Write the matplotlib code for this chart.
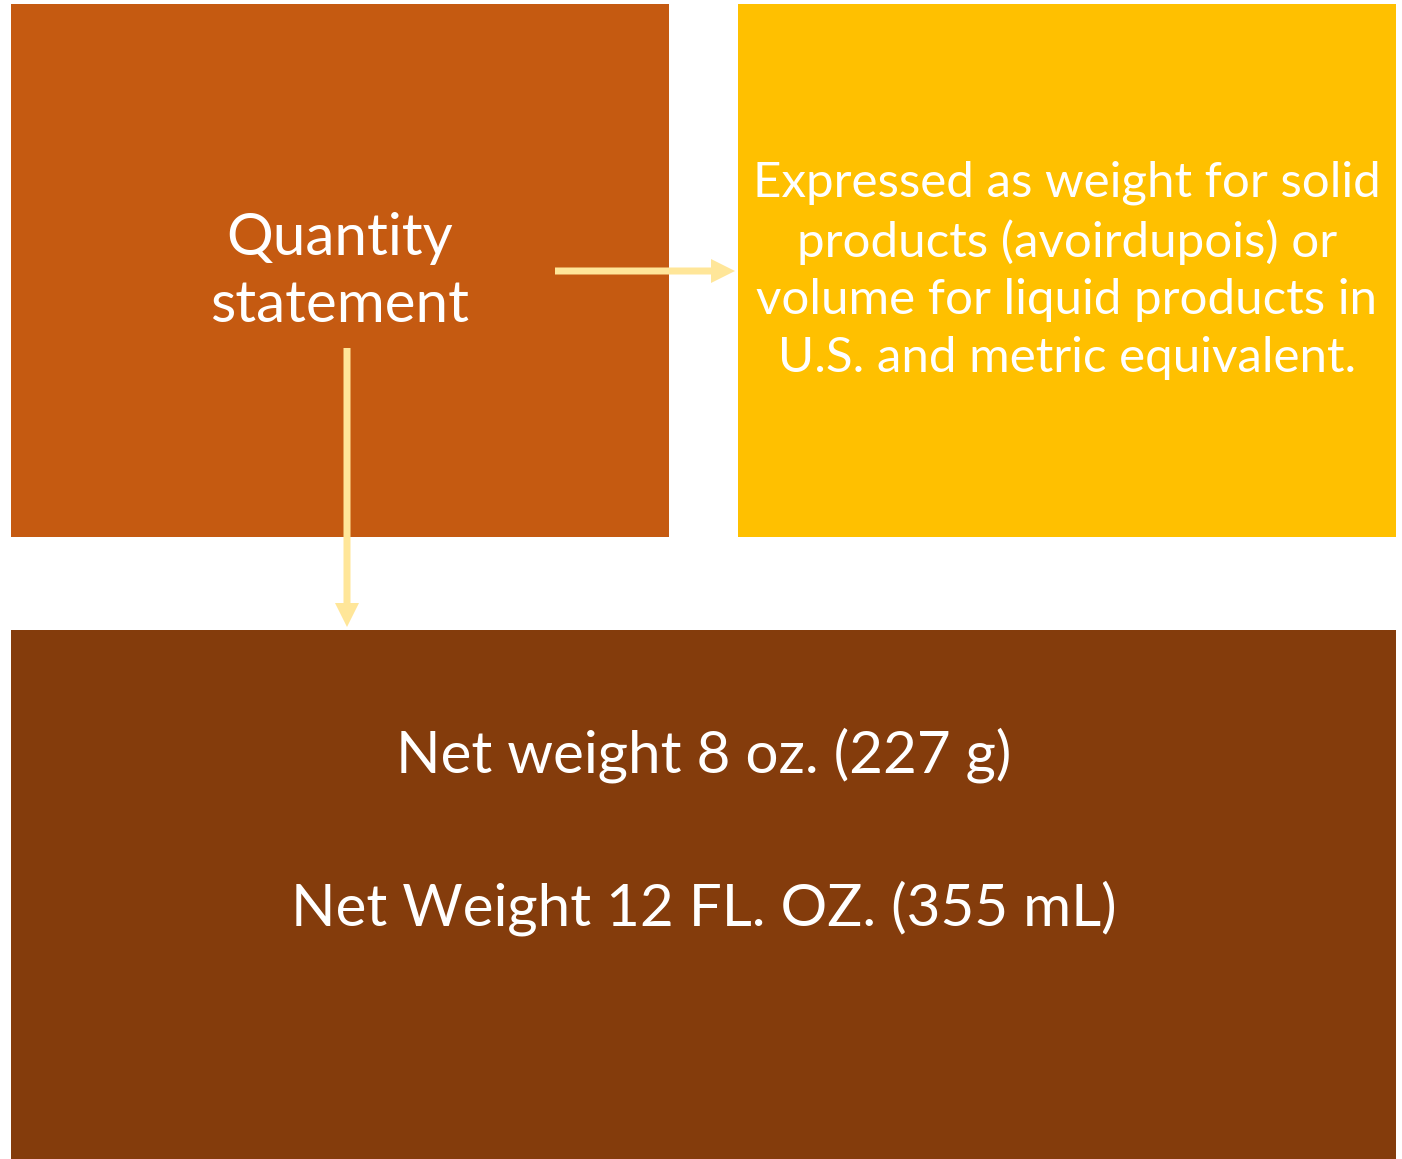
import matplotlib.pyplot as plt
from matplotlib.patches import Rectangle, FancyArrow

plt.rcParams['font.family'] = ['Lato', 'DejaVu Sans']

BOX_TEXTS = [
    'Quantity\nstatement',
    'Expressed as weight for solid\nproducts (avoirdupois) or\nvolume for liquid products in\nU.S. and metric equivalent.',
    'Net weight 8 oz. (227 g)\n\nNet Weight 12 FL. OZ. (355 mL)',
]
BOX_COLORS = ['#C55A11', '#FFC000', '#843C0C']
ARROW_COLOR = '#FFE699'


def draw_chart():
    fig = plt.figure(figsize=(14.02, 11.59), dpi=100)
    ax = fig.add_axes([0, 0, 1, 1])
    ax.set_xlim(0, 1402)
    ax.set_ylim(1159, 0)
    ax.axis('off')

    # (x, y, w, h) in pixel units
    boxes = [(11, 4, 658, 533), (738, 4, 658, 533), (11, 630, 1385, 529)]
    text_pos = [(340, 272), (1067, 270), (704, 832)]
    sizes = [42, 35.5, 42]
    spacing = [1.34, 1.38, 1.5]

    for (x, y, w, h), color, txt, (tx, ty), fs, ls in zip(boxes, BOX_COLORS, BOX_TEXTS, text_pos, sizes, spacing):
        ax.add_patch(Rectangle((x, y), w, h, facecolor=color, edgecolor='none'))
        ax.text(tx, ty, txt, color='white', fontsize=fs, ha='center', va='center',
                multialignment='center', linespacing=ls)

    ax.add_patch(FancyArrow(555, 271, 180, 0, width=7, head_width=24, head_length=24,
                            length_includes_head=True, color=ARROW_COLOR, linewidth=0))
    ax.add_patch(FancyArrow(347, 348, 0, 279, width=7, head_width=24, head_length=24,
                            length_includes_head=True, color=ARROW_COLOR, linewidth=0))

    fig.savefig('out.png', dpi=100)


if __name__ == '__main__':
    draw_chart()
